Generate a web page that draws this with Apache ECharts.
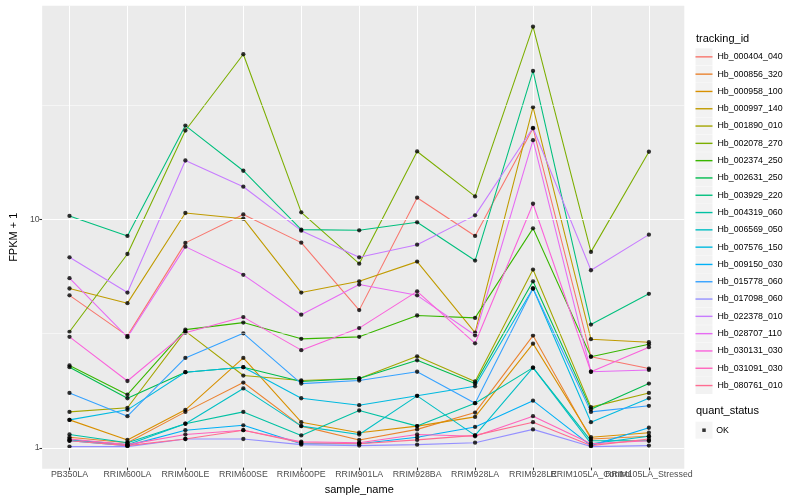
<!DOCTYPE html>
<html><head><meta charset="utf-8">
<script src="https://cdn.jsdelivr.net/npm/echarts@6/dist/echarts.min.js"></script>
<style>html,body{margin:0;padding:0;background:#fff}#c{width:800px;height:500px}</style>
</head><body><div id="c"></div>
<script>
const categories = ['PB350LA','RRIM600LA','RRIM600LE','RRIM600SE','RRIM600PE','RRIM901LA','RRIM928BA','RRIM928LA','RRIM928LE','RRIM105LA_Control','RRIM105LA_Stressed'];

const Hb_000404_040 = [4.61, 3.06, 7.83, 10.44, 7.85, 3.97, 12.36, 8.40, 24.91, 2.48, 2.20];
const Hb_000856_320 = [1.10, 1.04, 1.42, 1.91, 1.23, 1.07, 1.19, 1.41, 3.07, 1.08, 1.11];
const Hb_000958_100 = [1.31, 1.07, 1.45, 2.45, 1.28, 1.15, 1.23, 1.35, 2.83, 1.10, 1.15];
const Hb_000997_140 = [4.94, 4.26, 10.59, 10.00, 4.74, 5.31, 6.48, 3.16, 30.85, 2.96, 2.87];
const Hb_001890_010 = [1.42, 1.48, 3.21, 2.05, 1.95, 1.99, 2.49, 1.93, 5.98, 1.49, 1.72];
const Hb_002078_270 = [3.19, 7.00, 24.37, 52.65, 10.66, 6.35, 19.72, 12.52, 69.55, 7.15, 19.66];
const Hb_002374_250 = [2.27, 1.69, 3.26, 3.50, 2.97, 3.03, 3.76, 3.67, 9.07, 2.48, 2.81];
const Hb_002631_250 = [2.23, 1.63, 2.12, 2.23, 1.93, 1.99, 2.39, 1.89, 5.31, 1.46, 1.89];
const Hb_003929_220 = [10.28, 8.40, 25.62, 16.23, 8.95, 8.89, 9.64, 6.55, 44.49, 3.43, 4.68];
const Hb_004319_060 = [1.13, 1.04, 1.26, 1.42, 1.12, 1.44, 1.23, 1.55, 2.22, 1.06, 1.06];
const Hb_006569_050 = [1.07, 1.02, 1.26, 1.80, 1.23, 1.13, 1.67, 1.12, 2.22, 1.03, 1.11];
const Hb_007576_150 = [1.31, 1.45, 2.12, 2.23, 1.63, 1.52, 1.67, 1.84, 4.94, 1.28, 1.63];
const Hb_009150_030 = [1.06, 1.01, 1.18, 1.24, 1.03, 1.03, 1.10, 1.22, 1.59, 1.01, 1.21];
const Hb_015778_060 = [1.72, 1.36, 2.45, 3.14, 1.89, 1.95, 2.13, 1.55, 4.94, 1.42, 1.51];
const Hb_017098_060 = [1.00, 1.00, 1.08, 1.08, 1.02, 1.01, 1.02, 1.04, 1.19, 1.00, 1.01];
const Hb_022378_010 = [6.77, 4.74, 18.00, 13.81, 8.86, 6.77, 7.69, 10.34, 25.04, 5.94, 8.51];
const Hb_028707_110 = [5.48, 3.02, 7.54, 5.67, 3.79, 5.14, 4.61, 3.08, 22.11, 2.13, 2.17];
const Hb_030131_030 = [3.03, 1.94, 3.16, 3.70, 2.65, 3.31, 4.80, 2.84, 11.63, 2.13, 2.73];
const Hb_031091_030 = [1.08, 1.02, 1.13, 1.18, 1.05, 1.04, 1.13, 1.11, 1.36, 1.03, 1.06];
const Hb_080761_010 = [1.06, 1.01, 1.08, 1.18, 1.04, 1.03, 1.07, 1.12, 1.28, 1.01, 1.08];

const trackingIds = ['Hb_000404_040','Hb_000856_320','Hb_000958_100','Hb_000997_140','Hb_001890_010','Hb_002078_270','Hb_002374_250','Hb_002631_250','Hb_003929_220','Hb_004319_060','Hb_006569_050','Hb_007576_150','Hb_009150_030','Hb_015778_060','Hb_017098_060','Hb_022378_010','Hb_028707_110','Hb_030131_030','Hb_031091_030','Hb_080761_010'];
const seriesValues = [Hb_000404_040, Hb_000856_320, Hb_000958_100, Hb_000997_140, Hb_001890_010, Hb_002078_270, Hb_002374_250, Hb_002631_250, Hb_003929_220, Hb_004319_060, Hb_006569_050, Hb_007576_150, Hb_009150_030, Hb_015778_060, Hb_017098_060, Hb_022378_010, Hb_028707_110, Hb_030131_030, Hb_031091_030, Hb_080761_010];
const seriesColors = ['#F8766D','#EA8331','#D89000','#C09B00','#A3A500','#7CAE00','#39B600','#00BB4E','#00BF7D','#00C1A3','#00BFC4','#00BAE0','#00B0F6','#35A2FF','#9590FF','#C77CFF','#E76BF3','#FA62DB','#FF62BC','#FF6C91'];
const quantStatus = ['OK'];
const yTickValues = [1, 10];
const yMinorBreaks = [3.1623, 31.623];

const FONT = "'Liberation Sans', Arial, Helvetica, sans-serif";
const all = seriesValues.flat();
const lo = Math.log10(Math.min(...all)), hi = Math.log10(Math.max(...all));
const pad = (hi - lo) * 0.05;
const yMin = Math.pow(10, lo - pad), yMax = Math.pow(10, hi + pad);

const chart = echarts.init(document.getElementById('c'));

const lineSeries = seriesValues.map((vals, i) => ({
  type: 'line', name: trackingIds[i], xAxisIndex: 0, yAxisIndex: 0,
  data: vals, symbol: 'none', showSymbol: false, silent: true, z: 2,
  color: seriesColors[i],
  lineStyle: { color: seriesColors[i], width: 1.07 },
  itemStyle: { color: seriesColors[i] },
  emphasis: { disabled: true }
}));
const pointData = [];
seriesValues.forEach(vals => vals.forEach((v, j) => pointData.push([j, v])));

const legendBase = { orient: 'vertical', left: 695.5, top: 48.35, padding: 0, itemGap: 0.3, itemWidth: 17, selectedMode: false };

chart.setOption({
  animation: false,
  backgroundColor: '#ffffff',
  title: [
    { text: 'tracking_id', left: 696, top: 33.5, padding: 0, textStyle: { fontSize: 11, fontWeight: 'normal', color: '#000', fontFamily: FONT } },
    { text: 'quant_status', left: 696, top: 405.8, padding: 0, textStyle: { fontSize: 11, fontWeight: 'normal', color: '#000', fontFamily: FONT } }
  ],
  grid: [
    { left: 69.5, right: 151.1, top: 5.7, bottom: 31.2, show: false },
    { left: 34.7, right: 115.7, top: 5.7, bottom: 31.2, show: true, backgroundColor: '#EBEBEB', borderWidth: 0, z: -1 }
  ],
  xAxis: [
    { type: 'category', gridIndex: 0, data: categories, boundaryGap: false,
      axisLine: { show: false },
      axisTick: { show: true, length: 2.75, lineStyle: { color: '#333333', width: 1.07 } },
      axisLabel: { interval: 0, color: '#4D4D4D', fontSize: 8.8, fontFamily: FONT, margin: 2.5 },
      splitLine: { show: true, lineStyle: { color: '#ffffff', width: 1.07 } },
      name: 'sample_name', nameLocation: 'middle', nameGap: 9,
      nameTextStyle: { fontSize: 11, color: '#000', fontFamily: FONT } },
    { type: 'value', gridIndex: 1, min: 0, max: 1, show: false }
  ],
  yAxis: [
    { type: 'log', gridIndex: 0, min: yMin, max: yMax, show: false },
    { type: 'log', gridIndex: 1, min: yMin, max: yMax,
      axisLine: { show: false },
      axisTick: { show: true, length: 2.75, lineStyle: { color: '#333333', width: 1.07 }, customValues: yTickValues },
      axisLabel: { color: '#4D4D4D', fontSize: 8.8, fontFamily: FONT, margin: 2.5, customValues: yTickValues },
      splitLine: { show: false },
      name: 'FPKM + 1', nameLocation: 'middle', nameGap: 17, nameRotate: 90,
      nameTextStyle: { fontSize: 11, color: '#000', fontFamily: FONT } }
  ],
  legend: [
    Object.assign({}, legendBase, { data: trackingIds, icon: 'rect', itemHeight: 17, itemStyle: { color: '#F2F2F2', opacity: 1 }, formatter: ' ',
      textStyle: { fontSize: 8.8, lineHeight: 17 }, z: 3 }),
    Object.assign({}, legendBase, { data: trackingIds, icon: 'rect', itemHeight: 1.4,
      textStyle: { fontSize: 8.8, lineHeight: 17, color: '#000', fontFamily: FONT }, z: 4 }),
    { data: quantStatus, orient: 'vertical', left: 695.5, top: 421.7, padding: 0, itemWidth: 17, itemHeight: 17, icon: 'rect',
      itemStyle: { color: '#F2F2F2' }, formatter: ' ', selectedMode: false, z: 3 },
    { data: quantStatus, orient: 'vertical', left: 702.25, top: 421.7, padding: 0, itemWidth: 3.5, itemHeight: 3.5, icon: 'rect',
      itemStyle: { color: '#000' }, selectedMode: false, z: 4, formatter: '{p|{name}}',
      textStyle: { lineHeight: 17, fontSize: 8.8, color: '#000', fontFamily: FONT,
        rich: { p: { padding: [0, 0, 0, 5.5], fontSize: 8.8, color: '#000', fontFamily: FONT, lineHeight: 17 } } } }
  ],
  series: [
    { type: 'line', name: '_panelgrid', xAxisIndex: 1, yAxisIndex: 1, data: [[0, 1], [1, 1]], symbol: 'none',
      lineStyle: { opacity: 0 }, z: 1, silent: true, emphasis: { disabled: true },
      markLine: { silent: true, symbol: ['none', 'none'], label: { show: false }, emphasis: { disabled: true },
        lineStyle: { color: '#ffffff', type: 'solid' },
        data: yTickValues.map(v => ({ yAxis: v, lineStyle: { width: 1.07, color: '#fff', type: 'solid' } }))
          .concat(yMinorBreaks.map(v => ({ yAxis: v, lineStyle: { width: 0.53, color: '#fff', type: 'solid' } }))) } }
  ].concat(lineSeries).concat([
    { type: 'scatter', name: 'OK', xAxisIndex: 0, yAxisIndex: 0, data: pointData, symbol: 'circle', symbolSize: 4.3,
      itemStyle: { color: '#000' }, z: 3, silent: true, emphasis: { disabled: true } }
  ])
});
</script></body></html>
